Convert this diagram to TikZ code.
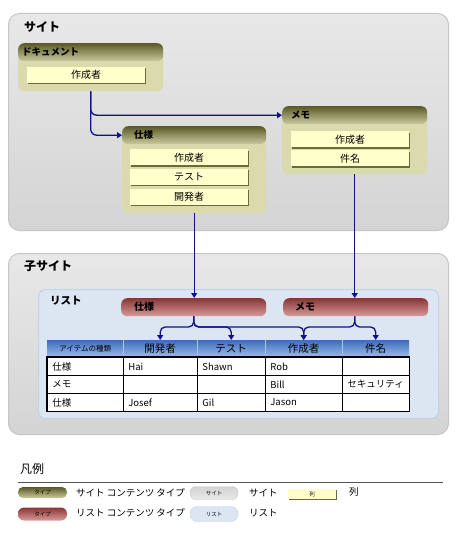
\documentclass[tikz,border=0pt]{standalone}
\usepackage{fontspec}
\setmainfont{Liberation Sans}
\newfontfamily\jp{Noto Sans CJK JP}
\usetikzlibrary{shadows,calc,arrows.meta}
\definecolor{sitetop}{HTML}{E8E8E8}
\definecolor{sitebot}{HTML}{D4D4D4}
\definecolor{sitedraw}{HTML}{C6C6C6}
\definecolor{ctfill}{HTML}{DADAAC}
\definecolor{olivetop}{HTML}{5A5A28}
\definecolor{olivebot}{HTML}{CACA9E}
\definecolor{colfill}{HTML}{FFFFCC}
\definecolor{coledge}{HTML}{6B6B36}
\definecolor{listfill}{HTML}{DCE6F2}
\definecolor{listdraw}{HTML}{C2D2EA}
\definecolor{redtop}{HTML}{8A3535}
\definecolor{redbot}{HTML}{D89A9A}
\definecolor{tbtop}{HTML}{3F6DBB}
\definecolor{tbbot}{HTML}{9DBCEB}
\definecolor{tbsep}{HTML}{A8C4EE}
\definecolor{arrowc}{HTML}{10108A}
\definecolor{legline}{HTML}{555555}
\tikzset{
  sitebox/.style={draw=sitedraw, line width=1pt, top color=sitetop, bottom color=sitebot, rounded corners=11pt, anchor=north west, inner sep=0pt},
  listbox/.style={draw=listdraw, line width=1pt, fill=listfill, rounded corners=7pt, anchor=north west, inner sep=0pt},
  ctbody/.style={fill=ctfill, rounded corners=6pt, anchor=north west, inner sep=0pt},
  cthead/.style={top color=olivetop, bottom color=olivebot, rounded corners=6pt, anchor=north west, inner sep=0pt},
  redhead/.style={top color=redtop, bottom color=redbot, rounded corners=6pt, anchor=north west, inner sep=0pt},
  headtxt/.style={anchor=west, inner sep=0pt, font=\jp\bfseries\fontsize{9.5}{11}\selectfont},
  bigtxt/.style={anchor=west, inner sep=0pt, font=\jp\bfseries\fontsize{12}{14}\selectfont},
  colbox/.style={fill=colfill, minimum width=118pt, minimum height=16pt, inner sep=0pt,
     general shadow={fill=coledge, shadow xshift=1.4pt, shadow yshift=-1.4pt},
     font=\jp\fontsize{10}{12}\selectfont},
  arr/.style={draw=arrowc, line width=1.3pt, -{Triangle[length=5pt,width=6pt]}},
  thead/.style={top color=tbtop, bottom color=tbbot, minimum width=#1, minimum height=17pt, inner sep=0pt, anchor=north west, font=\jp\fontsize{10.5}{12}\selectfont},
  tcell/.style={draw=black, line width=0.8pt, fill=white, text width=#1, align=left, inner xsep=5pt, inner ysep=0pt, minimum height=18pt, anchor=north west, font=\jp\fontsize{9.5}{11}\selectfont},
  legtxt/.style={anchor=west, inner sep=0pt, font=\jp\fontsize{9.5}{11}\selectfont},
  pilltxt/.style={font=\jp\fontsize{5.5}{6}\selectfont},
}
\begin{document}
\begin{tikzpicture}[x=1pt,y=-1pt]
\useasboundingbox (0,0) rectangle (456,534);
\fill[white] (0,0) rectangle (456,534);

% ---------- Site ----------
\node[sitebox, minimum width=440pt, minimum height=217pt] (site) at (8,13) {};
\node[bigtxt] (sitelbl) at (24,27) {サイト};

% Document content type
\node[ctbody, minimum width=145pt, minimum height=48pt] (doc) at (18,43) {};
\node[cthead, minimum width=145pt, minimum height=18pt] (doch) at (18,43) {};
\node[headtxt] (doct) at (22,52) {ドキュメント};
\node[colbox] (docc1) at (86,75) {作成者};

% Spec content type
\node[ctbody, minimum width=144pt, minimum height=87pt] (spec) at (122,126) {};
\node[cthead, minimum width=144pt, minimum height=18pt] (spech) at (122,126) {};
\node[headtxt] (spect) at (134,135) {仕様};
\node[colbox] (specc1) at (189,157.5) {作成者};
\node[colbox] (specc2) at (189,177) {テスト};
\node[colbox] (specc3) at (189,197) {開発者};

% Memo content type
\node[ctbody, minimum width=145pt, minimum height=68pt] (memo) at (282,106) {};
\node[cthead, minimum width=145pt, minimum height=18pt] (memoh) at (282,106) {};
\node[headtxt] (memot) at (291,115) {メモ};
\node[colbox] (memoc1) at (350,139.5) {作成者};
\node[colbox] (memoc2) at (350,158.5) {件名};

% ---------- Child site ----------
\node[sitebox, minimum width=440pt, minimum height=181pt] (child) at (8,253) {};
\node[bigtxt] (childlbl) at (24,266) {子サイト};
\node[listbox, minimum width=400pt, minimum height=129pt] (list) at (38,289) {};
\node[headtxt, font=\jp\bfseries\fontsize{10.5}{12}\selectfont] (listlbl) at (50,301) {リスト};

\node[redhead, minimum width=145pt, minimum height=18pt] (lspec) at (121,298) {};
\node[headtxt, font=\jp\bfseries\fontsize{10}{12}\selectfont] (lspect) at (134,307) {仕様};
\node[redhead, minimum width=145pt, minimum height=18pt] (lmemo) at (283,298) {};
\node[headtxt, font=\jp\bfseries\fontsize{10}{12}\selectfont] (lmemot) at (295,307) {メモ};

% Table header
\node[thead=76pt] (h1) at (47,340) {\fontsize{7.5}{9}\selectfont アイテムの種類};
\node[thead=74pt] (h2) at (123,340) {開発者};
\node[thead=68pt] (h3) at (197,340) {テスト};
\node[thead=77pt] (h4) at (265,340) {作成者};
\node[thead=67pt] (h5) at (342,340) {件名};
\foreach \a in {h2,h3,h4,h5} \draw[tbsep, line width=0.8pt] (\a.north west) -- (\a.south west);

% Table body
\node[tcell=66pt] (r1c1) at (47,357) {仕様};
\node[tcell=64pt] (r1c2) at (123,357) {Hai};
\node[tcell=58pt] (r1c3) at (197,357) {Shawn};
\node[tcell=67pt] (r1c4) at (265,357) {Rob};
\node[tcell=57pt] (r1c5) at (342,357) {};
\node[tcell=66pt] (r2c1) at (47,375) {メモ};
\node[tcell=64pt] (r2c2) at (123,375) {};
\node[tcell=58pt] (r2c3) at (197,375) {};
\node[tcell=67pt] (r2c4) at (265,375) {Bill};
\node[tcell=57pt] (r2c5) at (342,375) {セキュリティ};
\node[tcell=66pt] (r3c1) at (47,393) {仕様};
\node[tcell=64pt] (r3c2) at (123,393) {Josef};
\node[tcell=58pt] (r3c3) at (197,393) {Gil};
\node[tcell=67pt] (r3c4) at (265,393) {Jason};
\node[tcell=57pt] (r3c5) at (342,393) {};
\draw[black, line width=1.3pt] (r1c1.north west) rectangle (r3c5.south east);

% ---------- Connectors ----------
\coordinate (bar) at (0,327);
\draw[arr, rounded corners=6pt] (doc.south) |- (spech.west);
\draw[arr, rounded corners=6pt] (doc.south) |- (memoh.west);
\draw[arr] (spec.south) -- (spec.south |- lspec.north);
\draw[arr] (memo.south) -- (memo.south |- lmemo.north);
\draw[arr, rounded corners=5pt] (lspec.south) |- (bar -| h2.north) -- (h2.north);
\draw[arr, rounded corners=5pt] (lspec.south) |- (bar -| h3.north) -- (h3.north);
\draw[arr, rounded corners=5pt] (lspec.south) |- (bar -| h4.north) -- (h4.north);
\draw[arr, rounded corners=5pt] (lmemo.south -| memo.south) |- (bar -| h4.north) -- (h4.north);
\draw[arr, rounded corners=5pt] (lmemo.south -| memo.south) |- (bar -| h5.north) -- (h5.north);

% ---------- Legend ----------
\node[anchor=west, inner sep=0pt, font=\jp\fontsize{12}{14}\selectfont] (legt) at (20,469) {凡例};
\coordinate (ll) at (18,482);
\coordinate (lr) at (443,482);
\draw[legline, line width=1pt] (ll) -- (lr);

\node[top color=olivetop, bottom color=olivebot, rounded corners=5pt, minimum width=49pt, minimum height=11pt, inner sep=0pt, pilltxt] (p1) at (42.5,492.5) {タイプ};
\node[legtxt] (p1t) at (76,493) {サイト コンテンツ タイプ};
\node[top color=sitebot, bottom color=sitetop, draw=sitedraw, rounded corners=6pt, minimum width=48pt, minimum height=13pt, inner sep=0pt, pilltxt] (p2) at (214,493) {サイト};
\node[legtxt] (p2t) at (249,493) {サイト};
\node[colbox, minimum width=48pt, minimum height=10pt, font=\jp\fontsize{5.5}{6}\selectfont] (p3) at (312,494) {列};
\node[legtxt] (p3t) at (349,492) {列};

\node[top color=redtop, bottom color=redbot, rounded corners=6pt, minimum width=49pt, minimum height=13pt, inner sep=0pt, pilltxt] (p4) at (42.5,514) {タイプ};
\node[legtxt] (p4t) at (76,513) {リスト コンテンツ タイプ};
\node[fill=listfill, draw=listdraw, rounded corners=7pt, minimum width=48pt, minimum height=15pt, inner sep=0pt, pilltxt] (p5) at (214,514) {リスト};
\node[legtxt] (p5t) at (249,513) {リスト};
\end{tikzpicture}
\end{document}
